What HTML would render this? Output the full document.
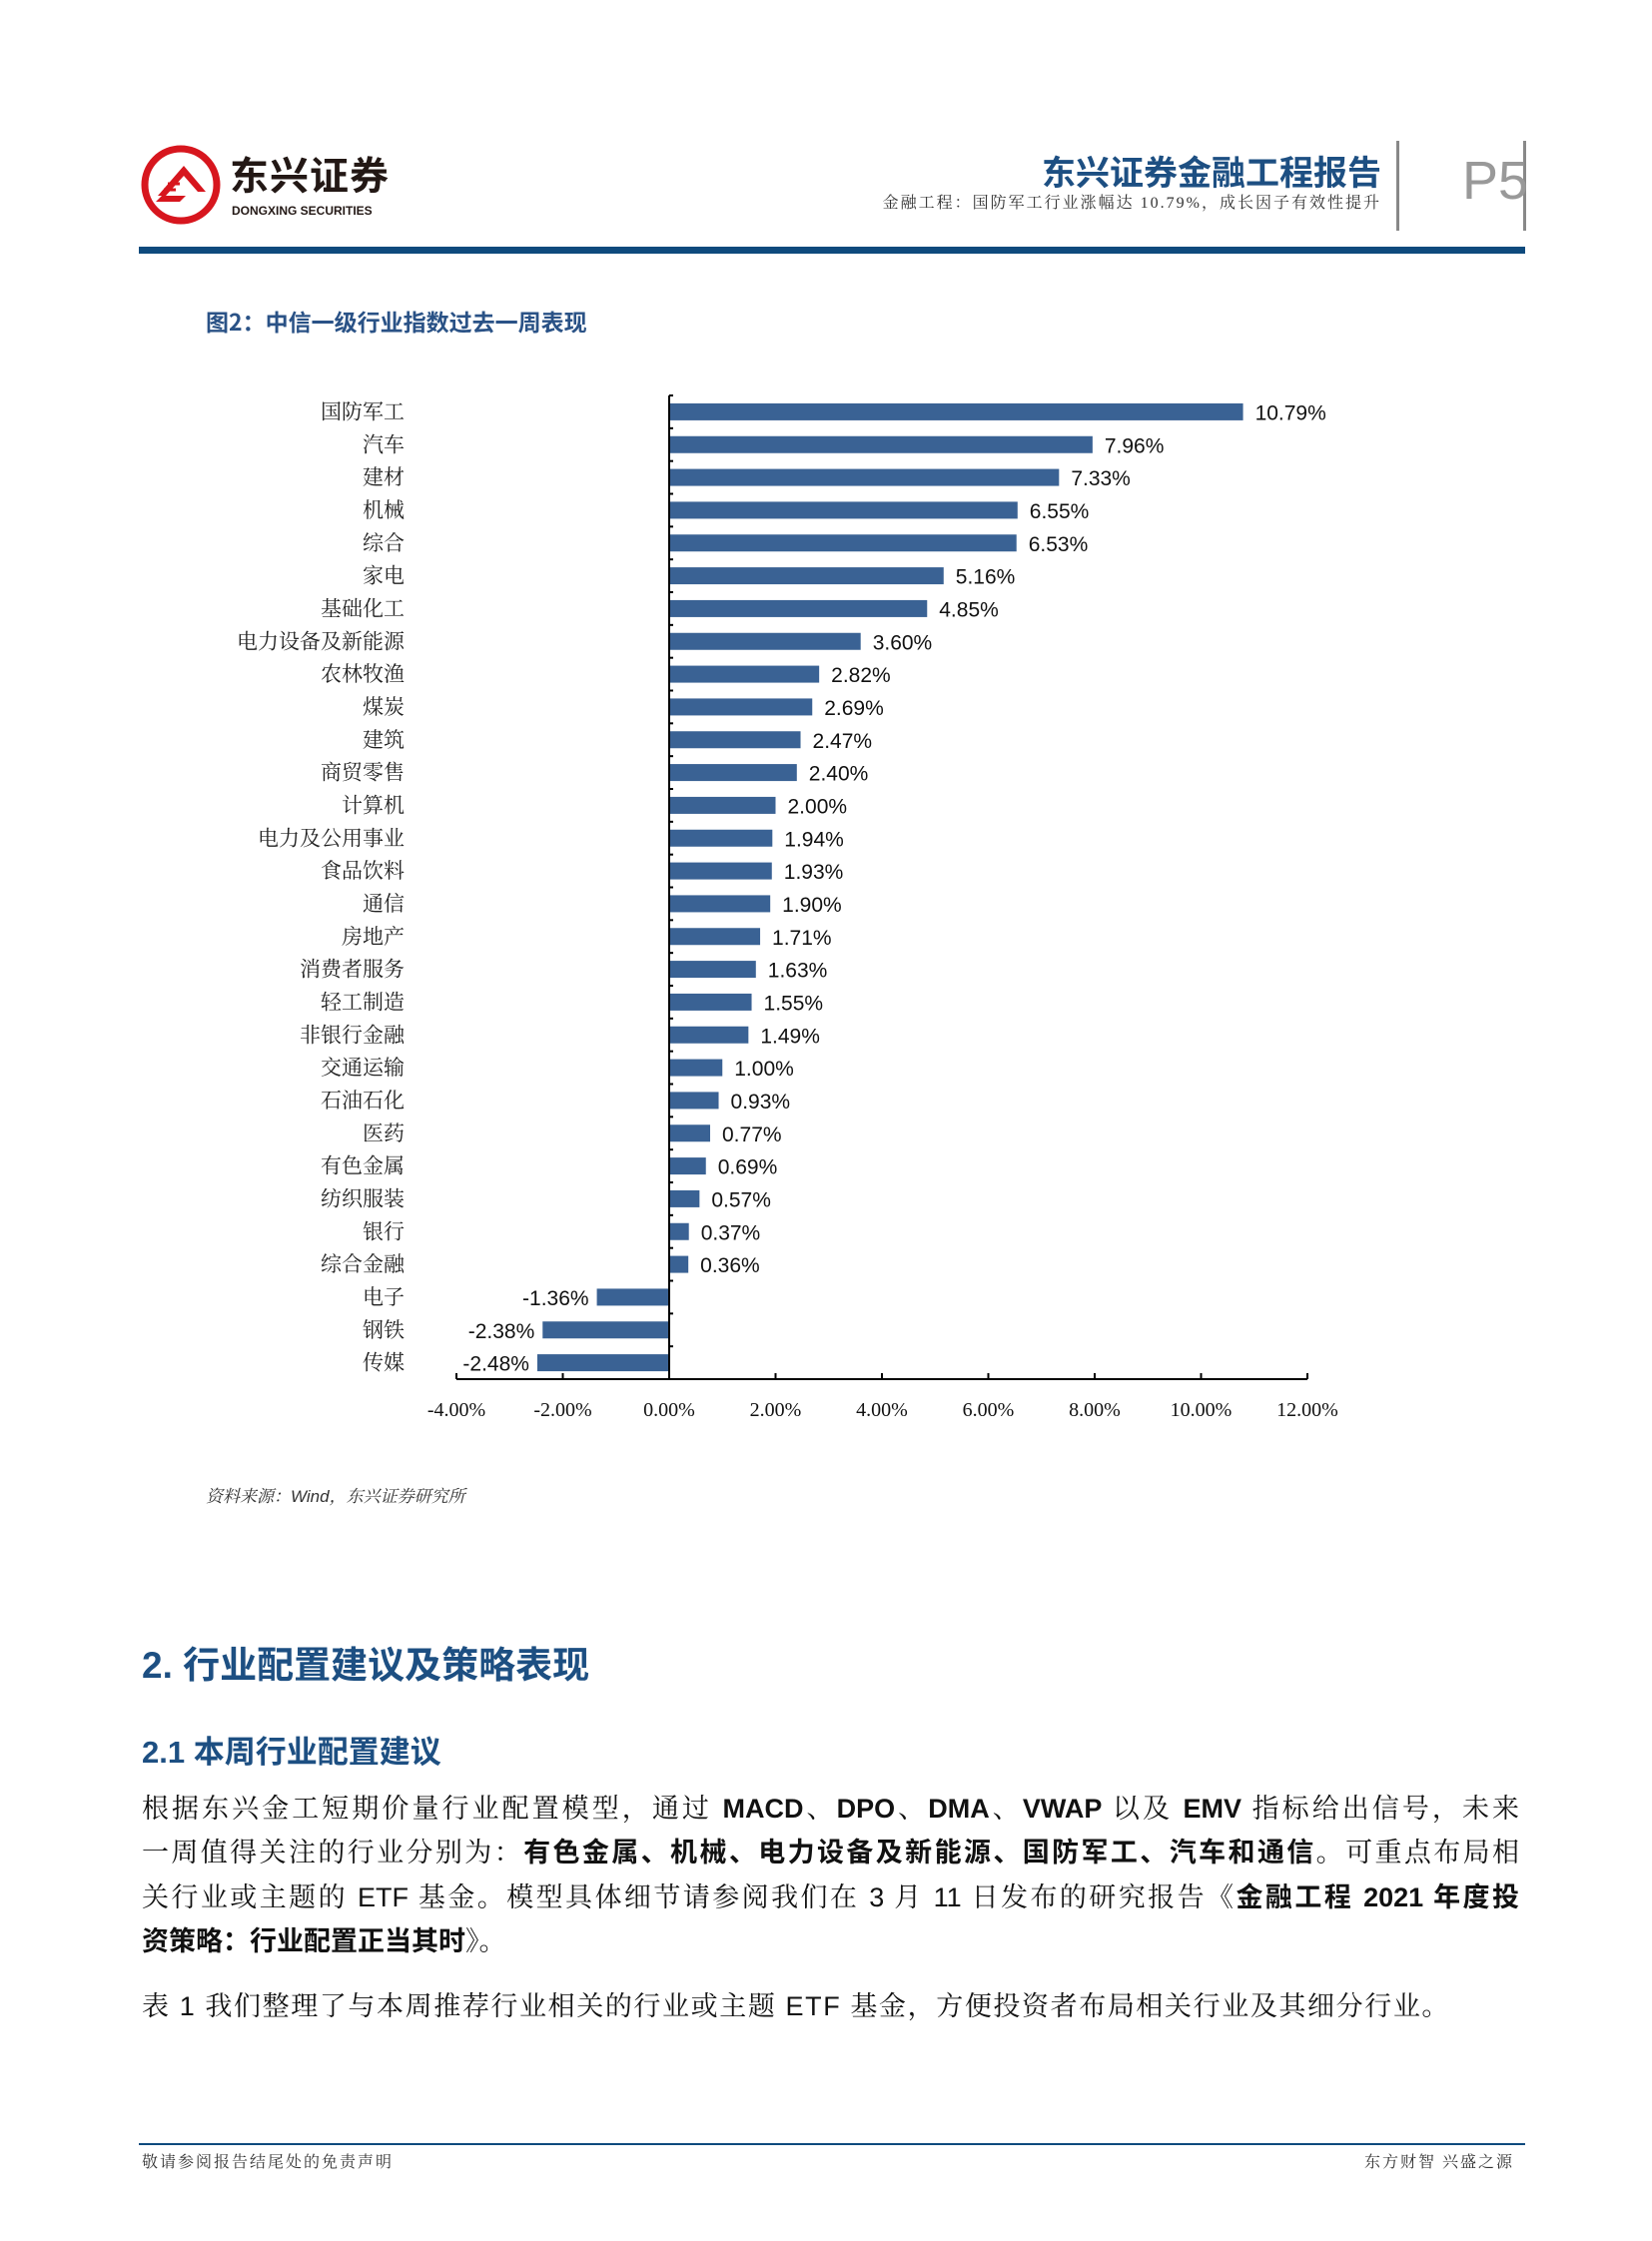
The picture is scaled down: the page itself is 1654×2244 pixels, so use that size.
<!DOCTYPE html>
<html><head><meta charset="utf-8">
<style>
body{margin:0;background:#fff;}
#page{position:relative;width:1654px;height:2244px;overflow:hidden;background:#fff;font-family:"Liberation Sans","Noto Sans CJK SC",sans-serif;}
.abs{position:absolute;white-space:nowrap;}
.para{position:absolute;left:142px;width:1379px;font-family:"Liberation Sans","Noto Serif CJK SC",serif;font-size:27px;color:#111;text-align:justify;text-align-last:justify;white-space:nowrap;}
.para b{font-family:"Liberation Sans","Noto Sans CJK SC",sans-serif;font-weight:bold;}
</style></head>
<body>
<div id="page">
  <svg class="abs" style="left:140px;top:144px" width="84" height="84">
    <circle cx="41" cy="41" r="36" fill="none" stroke="#d7161e" stroke-width="7"/>
    <path d="M18 52 L44 22 L66 48 L58 48 L44 32 L26 52 Z" fill="#d7161e"/>
    <path d="M16 58 L40 58 L46 52 L22 52 Z" fill="#d7161e"/>
    <path d="M24 46 L36 46 M28 40 L40 40" stroke="#d7161e" stroke-width="3"/>
  </svg>
  <div class="abs" style="left:230px;top:150px;font-size:39px;line-height:48px;font-weight:bold;color:#231815;font-family:'Noto Sans CJK SC',sans-serif;letter-spacing:1px">东兴证券</div>
  <div class="abs" style="left:232px;top:204px;font-size:12px;font-weight:bold;color:#231815">DONGXING SECURITIES</div>
  <div class="abs" style="right:271px;top:146px;font-size:34px;font-weight:bold;color:#1d4f82;font-family:'Noto Sans CJK SC',sans-serif">东兴证券金融工程报告</div>
  <div class="abs" style="right:271px;top:190px;font-size:16px;color:#333;font-family:'Liberation Serif','Noto Serif CJK SC',serif;letter-spacing:2px">金融工程：国防军工行业涨幅达 10.79%，成长因子有效性提升</div>
  <div class="abs" style="left:1398px;top:141px;width:3px;height:90px;background:#888"></div>
  <div class="abs" style="left:1525px;top:141px;width:3px;height:90px;background:#888"></div>
  <div class="abs" style="left:1464px;top:150px;font-size:54px;color:#999">P5</div>
  <div class="abs" style="left:139px;top:247px;width:1388px;height:7px;background:#0e4a7d"></div>

  <div class="abs" style="left:206px;top:304px;font-size:23px;font-weight:bold;color:#2a5286;font-family:'Noto Sans CJK SC',sans-serif">图2：中信一级行业指数过去一周表现</div>

  <svg id="chart" class="abs" style="left:0;top:0" width="1654" height="1460"></svg>

  <div class="abs" style="left:206px;top:1484px;font-size:17px;font-style:italic;color:#333;font-family:'Liberation Sans','Noto Serif CJK SC',serif">资料来源：Wind，东兴证券研究所</div>

  <div class="abs" style="left:142px;top:1637px;font-size:37px;font-weight:bold;color:#1d4f82;font-family:'Liberation Sans','Noto Sans CJK SC',sans-serif">2. 行业配置建议及策略表现</div>
  <div class="abs" style="left:142px;top:1729px;font-size:31px;font-weight:bold;color:#1d4f82;font-family:'Liberation Sans','Noto Sans CJK SC',sans-serif">2.1 本周行业配置建议</div>

  <div class="para" style="top:1789px">根据东兴金工短期价量行业配置模型，通过 <b>MACD</b>、<b>DPO</b>、<b>DMA</b>、<b>VWAP</b> 以及 <b>EMV</b> 指标给出信号，未来</div>
  <div class="para" style="top:1833px">一周值得关注的行业分别为：<b>有色金属、机械、电力设备及新能源、国防军工、汽车和通信</b>。可重点布局相</div>
  <div class="para" style="top:1878px">关行业或主题的 ETF 基金。模型具体细节请参阅我们在 3 月 11 日发布的研究报告《<b>金融工程 2021 年度投</b></div>
  <div class="para" style="top:1922px;text-align-last:left"><b>资策略：行业配置正当其时</b>》。</div>
  <div class="para" style="top:1987px;text-align-last:left;letter-spacing:1.6px">表 1 我们整理了与本周推荐行业相关的行业或主题 ETF 基金，方便投资者布局相关行业及其细分行业。</div>

  <div class="abs" style="left:139px;top:2146px;width:1388px;height:2px;background:#0e4a7d"></div>
  <div class="abs" style="left:142px;top:2152px;font-size:16px;color:#333;font-family:'Liberation Serif','Noto Serif CJK SC',serif;letter-spacing:2px">敬请参阅报告结尾处的免责声明</div>
  <div class="abs" style="right:138px;top:2152px;font-size:16px;color:#333;font-family:'Liberation Serif','Noto Serif CJK SC',serif;letter-spacing:2px">东方财智 兴盛之源</div>
</div>
<script>
const categories=["国防军工","汽车","建材","机械","综合","家电","基础化工","电力设备及新能源","农林牧渔","煤炭","建筑","商贸零售","计算机","电力及公用事业","食品饮料","通信","房地产","消费者服务","轻工制造","非银行金融","交通运输","石油石化","医药","有色金属","纺织服装","银行","综合金融","电子","钢铁","传媒"];
const values=[10.79,7.96,7.33,6.55,6.53,5.16,4.85,3.60,2.82,2.69,2.47,2.40,2.00,1.94,1.93,1.90,1.71,1.63,1.55,1.49,1.00,0.93,0.77,0.69,0.57,0.37,0.36,-1.36,-2.38,-2.48];
const tickValues=[-4,-2,0,2,4,6,8,10,12];
const tickLabels=["-4.00%","-2.00%","0.00%","2.00%","4.00%","6.00%","8.00%","10.00%","12.00%"];
const NS="http://www.w3.org/2000/svg";
const svg=document.getElementById('chart');
const xMin=-4,xMax=12,pxL=457,pxR=1309;
const x=v=>pxL+(v-xMin)/(xMax-xMin)*(pxR-pxL);
const top0=396,bot=1381,n=categories.length,band=(bot-top0)/n;
const y=i=>top0+band*(i+0.5);
function mk(t,a){const e=document.createElementNS(NS,t);for(const k in a)e.setAttribute(k,a[k]);svg.appendChild(e);return e;}
categories.forEach((c,i)=>{
  const v=values[i],x0=x(0),x1=x(v),bh=17;
  const r=mk('rect',{x:Math.min(x0,x1),y:y(i)-bh/2,width:Math.abs(x1-x0),height:bh,fill:'#3a6294'});
  
  
  const lt=mk('text',{x:405,y:y(i)+7,'text-anchor':'end','font-size':21,fill:'#222','font-family':'"Liberation Serif","Noto Serif CJK SC",serif'});
  lt.textContent=c;
  
  
  const vt=mk('text',{x:v>=0?x1+12:x1-8,y:y(i)+8,'text-anchor':v>=0?'start':'end','font-size':21,fill:'#111','font-family':'"Liberation Sans",sans-serif'});
  vt.textContent=v.toFixed(2)+'%';
  
  
});
const ya=mk('line',{x1:x(0),y1:top0,x2:x(0),y2:bot,stroke:'#000','stroke-width':2});


for(let i=0;i<=n;i++){mk('line',{x1:x(0),y1:top0+band*i,x2:x(0)+4,y2:top0+band*i,stroke:'#000','stroke-width':2});}
const xa=mk('line',{x1:pxL,y1:bot,x2:pxR,y2:bot,stroke:'#000','stroke-width':2});


tickValues.forEach((t,i)=>{
  mk('line',{x1:x(t),y1:bot,x2:x(t),y2:bot-6,stroke:'#000','stroke-width':2});
  const tt=mk('text',{x:x(t),y:bot+37,'text-anchor':'middle','font-size':20,fill:'#111','font-family':'"Liberation Serif",serif'});
  tt.textContent=tickLabels[i];
  
  
});
</script>
</body></html>
